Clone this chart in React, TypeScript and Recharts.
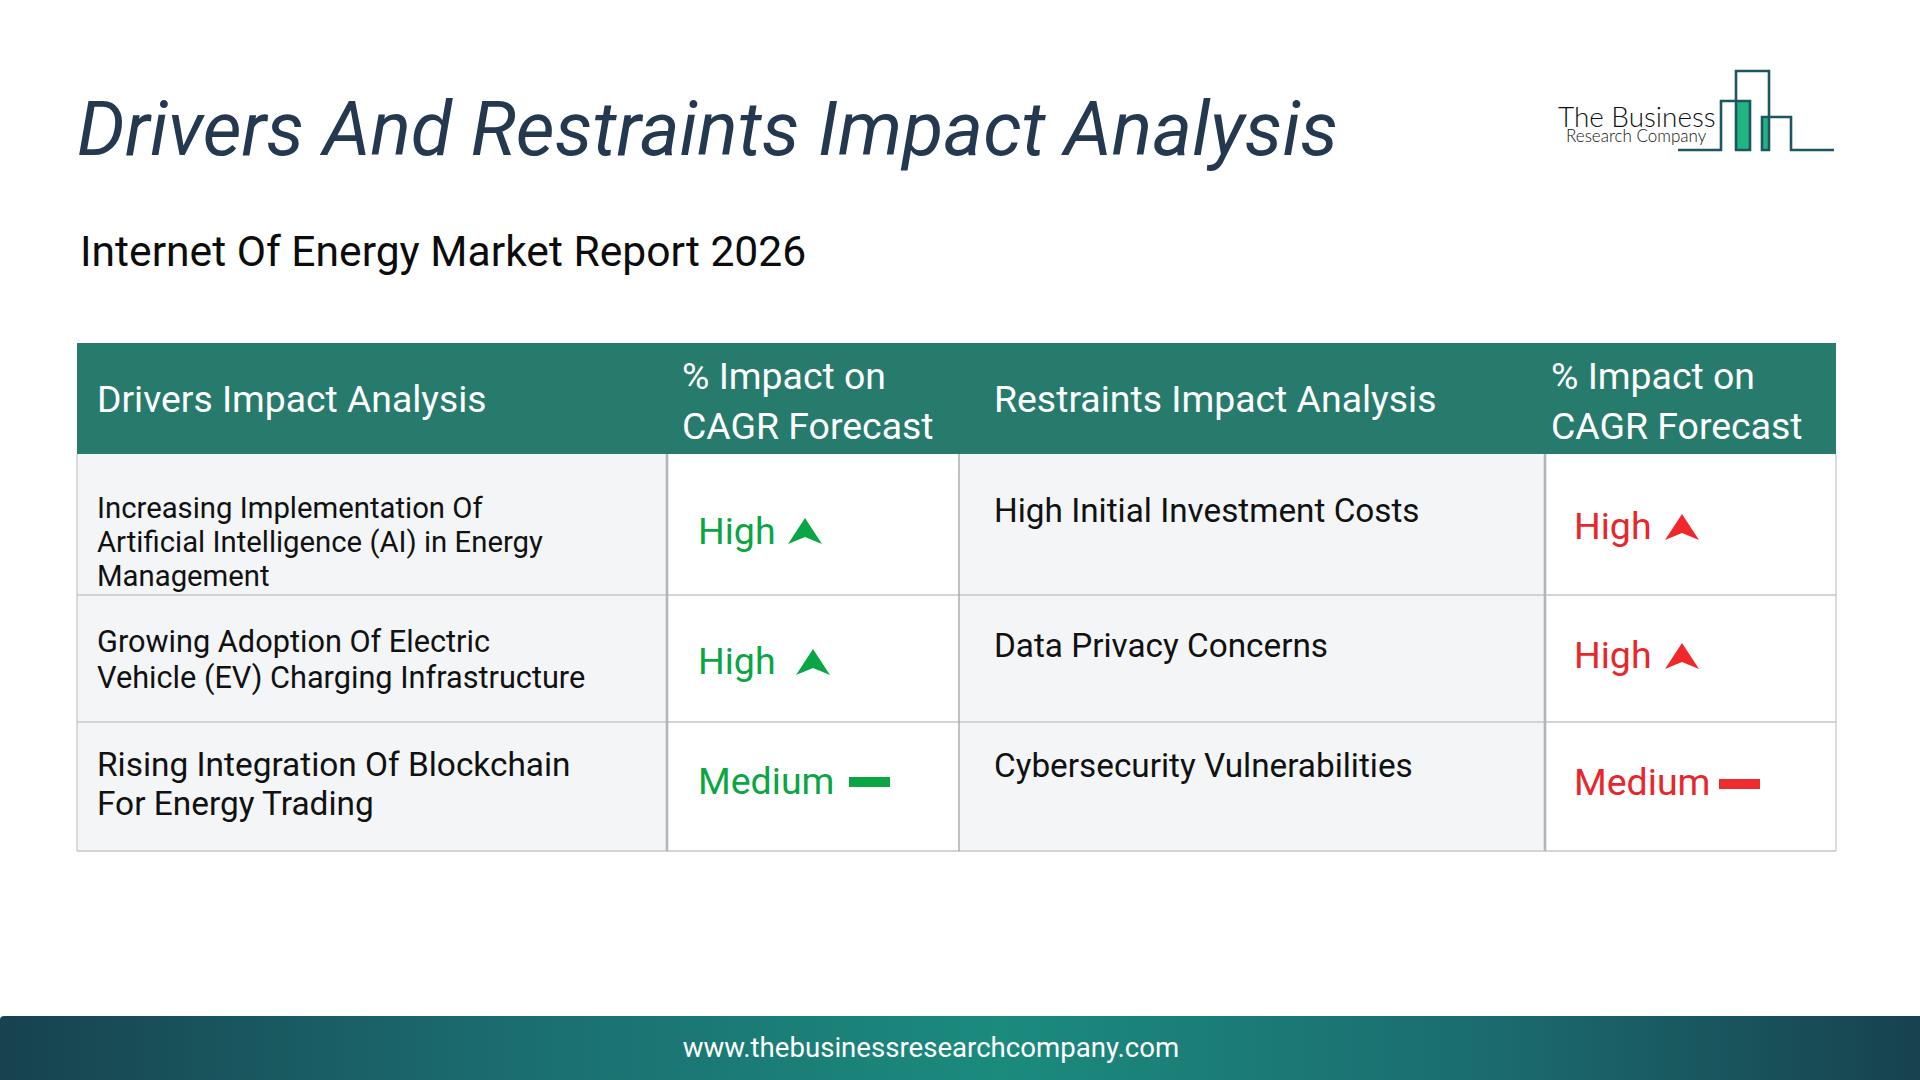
import React from 'react';
import { ComposedChart, XAxis, YAxis, ReferenceArea, ReferenceLine, Scatter, Line } from 'recharts';

const title = 'Drivers And Restraints Impact Analysis';
const subtitle = 'Internet Of Energy Market Report 2026';
const website = 'www.thebusinessresearchcompany.com';

const driverHeader = 'Drivers Impact Analysis';
const restraintHeader = 'Restraints Impact Analysis';
const impactHeader = ['% Impact on', 'CAGR Forecast'];

const drivers = [
  ['Increasing Implementation Of', 'Artificial Intelligence (AI) in Energy', 'Management'],
  ['Growing Adoption Of Electric', 'Vehicle (EV) Charging Infrastructure'],
  ['Rising Integration Of Blockchain', 'For Energy Trading'],
];
const driverImpacts = ['High', 'High', 'Medium'];
const restraints = ['High Initial Investment Costs', 'Data Privacy Concerns', 'Cybersecurity Vulnerabilities'];
const restraintImpacts = ['High', 'High', 'Medium'];

// table layout, px
const W = 1920;
const H = 1080;
const colX = [77, 667, 959, 1545, 1836];
const rowY = [343, 454, 595, 722, 851];
const driverBase = [[518, 552, 586], [652, 688], [776, 815]];
const driverSize = [29.3, 30.7, 33.4];
const restraintBase = [522, 657, 777];
const green = '#0aa544';
const red = '#e8262b';
const driverMarks = [
  { base: 544, markX: 805, markY: 531 },
  { base: 674, markX: 813, markY: 662 },
  { base: 794, markX: 869, markY: 782 },
];
const restraintMarks = [
  { base: 539, markX: 1682, markY: 527 },
  { base: 668, markX: 1682, markY: 656 },
  { base: 795, markX: 1739, markY: 784 },
];

type Label = { x: number; y: number; text: string; size: number; color: string; weight?: number; style?: string; family?: string; anchor?: string };

const labels: Label[] = [
  { x: 77, y: 155, text: title, size: 75.5, color: '#24394f', style: 'italic' },
  { x: 80, y: 266, text: subtitle, size: 42.6, color: '#0c0c0c' },
  { x: 97, y: 412, text: driverHeader, size: 37.3, color: '#ffffff' },
  { x: 994, y: 412, text: restraintHeader, size: 37.4, color: '#ffffff' },
  { x: 682, y: 389, text: impactHeader[0], size: 37.4, color: '#ffffff' },
  { x: 682, y: 439, text: impactHeader[1], size: 37.4, color: '#ffffff' },
  { x: 1551, y: 389, text: impactHeader[0], size: 37.4, color: '#ffffff' },
  { x: 1551, y: 439, text: impactHeader[1], size: 37.4, color: '#ffffff' },
  ...drivers.flatMap((lines, r) =>
    lines.map((text, i) => ({ x: 97, y: driverBase[r][i], text, size: driverSize[r], color: '#111111' }))),
  ...restraints.map((text, r) => ({ x: 994, y: restraintBase[r], text, size: 33.3, color: '#111111' })),
  ...driverImpacts.map((text, r) => ({ x: 698, y: driverMarks[r].base, text, size: 37.5, color: green })),
  ...restraintImpacts.map((text, r) => ({ x: 1574, y: restraintMarks[r].base, text, size: 37.5, color: red })),
  { x: 931, y: 1057, text: website, size: 27.6, color: '#ffffff', anchor: 'middle' },
  { x: 1558, y: 127, text: 'The Business', size: 27.9, color: '#111111', weight: 300, family: 'Lato' },
  { x: 1566, y: 142, text: 'Research Company', size: 17, color: '#111111', weight: 300, family: 'Lato' },
];

const marks = [
  ...driverImpacts.map((level, r) => ({ x: driverMarks[r].markX, y: driverMarks[r].markY, level, color: green })),
  ...restraintImpacts.map((level, r) => ({ x: restraintMarks[r].markX, y: restraintMarks[r].markY, level, color: r === 2 ? '#ee2b2f' : '#f0282c' })),
];

const logoLine = [
  { x: 1678, y: 150 }, { x: 1721, y: 150 }, { x: 1721, y: 101 }, { x: 1750, y: 101 }, { x: 1750, y: 150 }, { x: 1736, y: 150 },
  { x: 1736, y: 71 }, { x: 1769, y: 71 }, { x: 1769, y: 150 }, { x: 1762, y: 150 }, { x: 1762, y: 117 }, { x: 1791, y: 117 },
  { x: 1791, y: 150 }, { x: 1834, y: 150 },
];

const TextShape = (props: any) => {
  const d = props.payload as Label;
  return (
    <text
      x={props.cx}
      y={props.cy}
      fontFamily={d.family || 'Roboto'}
      fontSize={d.size}
      fontWeight={d.weight || 400}
      fontStyle={d.style || 'normal'}
      fill={d.color}
      textAnchor={d.anchor || 'start'}
    >
      {d.text}
    </text>
  );
};

const MarkShape = (props: any) => {
  const { cx, cy, payload } = props;
  if (payload.level === 'Medium') {
    return <rect x={cx - 20} y={cy - 5} width={41} height={10} fill={payload.color} />;
  }
  return (
    <path
      d={`M ${cx} ${cy - 13} L ${cx + 17} ${cy + 13} L ${cx} ${cy + 6} L ${cx - 17} ${cy + 13} Z`}
      fill={payload.color}
    />
  );
};

export default function App() {
  const cells = rowY.slice(1, 4).map((y, r) => ({ y1: y, y2: rowY[r + 2] }));
  return (
    <div style={{ position: 'absolute', left: 0, top: 0, width: W, height: H, background: '#ffffff' }}>
      <ComposedChart width={W} height={H} margin={{ top: 0, right: 0, bottom: 0, left: 0 }}>
        <defs>
          <linearGradient id="footerFill" x1="0" y1="0" x2="1" y2="0">
            <stop offset="0" stopColor="#17424f" />
            <stop offset="0.25" stopColor="#1b6b6e" />
            <stop offset="0.52" stopColor="#1b8b7e" />
            <stop offset="0.78" stopColor="#1b6b6e" />
            <stop offset="1" stopColor="#17424f" />
          </linearGradient>
        </defs>
        <XAxis type="number" dataKey="x" domain={[0, W]} hide />
        <YAxis type="number" dataKey="y" domain={[0, H]} reversed hide width={0} />

        <ReferenceArea x1={colX[0]} x2={colX[4]} y1={rowY[0]} y2={rowY[1]} fill="#267b6c" fillOpacity={1} stroke="none" />
        {cells.map((c, r) => (
          <ReferenceArea key={`a${r}`} x1={colX[0]} x2={colX[1]} y1={c.y1} y2={c.y2} fill="#f3f5f7" fillOpacity={1} stroke="none" />
        ))}
        {cells.map((c, r) => (
          <ReferenceArea key={`b${r}`} x1={colX[2]} x2={colX[3]} y1={c.y1} y2={c.y2} fill="#f3f5f7" fillOpacity={1} stroke="none" />
        ))}
        {rowY.slice(2).map((y) => (
          <ReferenceLine key={`h${y}`} segment={[{ x: colX[0], y }, { x: colX[4], y }]} stroke="#c3c7cb" strokeWidth={1.5} />
        ))}
        {colX.map((x, i) => (
          <ReferenceLine
            key={`v${x}`}
            segment={[{ x, y: rowY[1] }, { x, y: rowY[4] }]}
            stroke={i === 1 || i === 3 ? '#b2b5ba' : i === 2 ? '#9fa3a7' : '#c4c7cb'}
            strokeWidth={i === 1 || i === 3 ? 2.6 : 1.3}
          />
        ))}

        <ReferenceArea x1={0} x2={W} y1={1016} y2={H} fill="url(#footerFill)" fillOpacity={1} stroke="none" radius={[4, 0, 0, 0]} />

        <ReferenceArea x1={1736} x2={1750} y1={101} y2={150} fill="#20b583" fillOpacity={1} stroke="none" />
        <ReferenceArea x1={1762} x2={1769} y1={117} y2={150} fill="#20b583" fillOpacity={1} stroke="none" />
        <Line data={logoLine} dataKey="y" stroke="#1d5660" strokeWidth={2.6} dot={false} isAnimationActive={false} />

        <Scatter data={labels} shape={TextShape} isAnimationActive={false} />
        <Scatter data={marks} shape={MarkShape} isAnimationActive={false} />
      </ComposedChart>
    </div>
  );
}
